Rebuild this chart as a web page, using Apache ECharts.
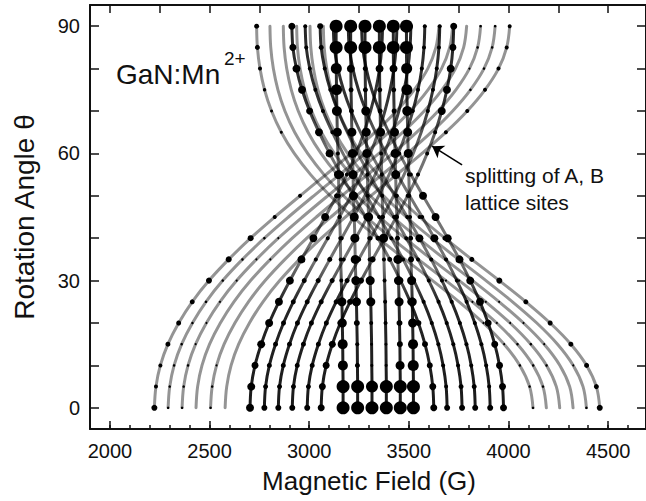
<!DOCTYPE html>
<html>
<head>
<meta charset="utf-8">
<script src="https://cdn.jsdelivr.net/npm/echarts@6/dist/echarts.min.js"></script>
<style>
  html, body { margin: 0; padding: 0; background: #ffffff; }
  #chart { width: 646px; height: 501px; }
</style>
</head>
<body>
<div id="chart"></div>
<script>
// Rotation angles (deg) at which every line position is tabulated
const angles = [0, 5, 10, 15, 20, 25, 30, 35, 40, 45, 50, 55, 60, 65, 70, 75, 80, 85, 90];

// Resonance fields (G) of the 30 Mn2+ lines: 5 fine-structure groups x 6 hyperfine lines
// Group A: lowest-field outer transitions
const fieldA1 = [2223, 2231, 2253, 2291, 2345, 2413, 2497, 2596, 2706, 2827, 2954, 3084, 3211, 3331, 3438, 3527, 3595, 3636, 3651];
const fieldA2 = [2292, 2300, 2322, 2360, 2414, 2482, 2566, 2665, 2775, 2896, 3023, 3153, 3280, 3400, 3507, 3596, 3664, 3705, 3720];
const fieldA3 = [2362, 2370, 2392, 2430, 2484, 2552, 2636, 2735, 2845, 2966, 3093, 3223, 3350, 3470, 3577, 3666, 3734, 3775, 3790];
const fieldA4 = [2432, 2440, 2462, 2500, 2554, 2622, 2706, 2805, 2915, 3036, 3163, 3293, 3420, 3540, 3647, 3736, 3804, 3845, 3860];
const fieldA5 = [2505, 2513, 2535, 2573, 2627, 2695, 2779, 2878, 2988, 3109, 3236, 3366, 3493, 3613, 3720, 3809, 3877, 3918, 3933];
const fieldA6 = [2578, 2586, 2608, 2646, 2700, 2768, 2852, 2951, 3061, 3182, 3309, 3439, 3566, 3686, 3793, 3882, 3950, 3991, 4006];
// Group B: inner low-field transitions
const fieldB1 = [2703, 2709, 2728, 2759, 2799, 2848, 2903, 2961, 3021, 3080, 3137, 3189, 3235, 3275, 3308, 3334, 3353, 3364, 3368];
const fieldB2 = [2775, 2781, 2800, 2831, 2871, 2920, 2975, 3033, 3093, 3152, 3209, 3261, 3307, 3347, 3380, 3406, 3425, 3436, 3440];
const fieldB3 = [2845, 2851, 2870, 2901, 2941, 2990, 3045, 3103, 3163, 3222, 3279, 3331, 3377, 3417, 3450, 3476, 3495, 3506, 3510];
const fieldB4 = [2915, 2921, 2940, 2971, 3011, 3060, 3115, 3173, 3233, 3292, 3349, 3401, 3447, 3487, 3520, 3546, 3565, 3576, 3580];
const fieldB5 = [2990, 2996, 3015, 3046, 3086, 3135, 3190, 3248, 3308, 3367, 3424, 3476, 3522, 3562, 3595, 3621, 3640, 3651, 3655];
const fieldB6 = [3060, 3066, 3085, 3116, 3156, 3205, 3260, 3318, 3378, 3437, 3494, 3546, 3592, 3632, 3665, 3691, 3710, 3721, 3725];
// Group C: central transition
const fieldC1 = [3170, 3170, 3169, 3168, 3166, 3164, 3161, 3158, 3156, 3153, 3149, 3147, 3144, 3141, 3139, 3137, 3136, 3135, 3135];
const fieldC2 = [3243, 3243, 3242, 3241, 3239, 3237, 3234, 3231, 3229, 3226, 3222, 3220, 3217, 3214, 3212, 3210, 3209, 3208, 3208];
const fieldC3 = [3315, 3315, 3314, 3313, 3311, 3309, 3306, 3303, 3301, 3298, 3294, 3292, 3289, 3286, 3284, 3282, 3281, 3280, 3280];
const fieldC4 = [3387, 3387, 3386, 3385, 3383, 3381, 3378, 3375, 3373, 3370, 3366, 3364, 3361, 3358, 3356, 3354, 3353, 3352, 3352];
const fieldC5 = [3457, 3457, 3456, 3455, 3453, 3451, 3448, 3445, 3443, 3440, 3436, 3434, 3431, 3428, 3426, 3424, 3423, 3422, 3422];
const fieldC6 = [3523, 3523, 3522, 3521, 3519, 3517, 3514, 3511, 3509, 3506, 3502, 3500, 3497, 3494, 3492, 3490, 3489, 3488, 3488];
// Group D: inner high-field transitions
const fieldD1 = [3625, 3620, 3605, 3581, 3548, 3507, 3458, 3404, 3345, 3284, 3221, 3160, 3102, 3049, 3002, 2964, 2936, 2918, 2913];
const fieldD2 = [3692, 3687, 3672, 3648, 3615, 3574, 3525, 3471, 3412, 3351, 3288, 3227, 3169, 3116, 3069, 3031, 3003, 2985, 2980];
const fieldD3 = [3767, 3762, 3747, 3723, 3690, 3649, 3600, 3546, 3487, 3426, 3363, 3302, 3244, 3191, 3144, 3106, 3078, 3060, 3055];
const fieldD4 = [3833, 3828, 3813, 3789, 3756, 3715, 3666, 3612, 3553, 3492, 3429, 3368, 3310, 3257, 3210, 3172, 3144, 3126, 3121];
const fieldD5 = [3908, 3903, 3888, 3864, 3831, 3790, 3741, 3687, 3628, 3567, 3504, 3443, 3385, 3332, 3285, 3247, 3219, 3201, 3196];
const fieldD6 = [3975, 3970, 3955, 3931, 3898, 3857, 3808, 3754, 3695, 3634, 3571, 3510, 3452, 3399, 3352, 3314, 3286, 3268, 3263];
// Group E: highest-field outer transitions
const fieldE1 = [4123, 4106, 4057, 3978, 3874, 3752, 3619, 3481, 3346, 3219, 3105, 3007, 2925, 2860, 2811, 2776, 2753, 2740, 2736];
const fieldE2 = [4190, 4173, 4124, 4045, 3941, 3819, 3686, 3548, 3413, 3286, 3172, 3074, 2992, 2927, 2878, 2843, 2820, 2807, 2803];
const fieldE3 = [4257, 4240, 4191, 4112, 4008, 3886, 3753, 3615, 3480, 3353, 3239, 3141, 3059, 2994, 2945, 2910, 2887, 2874, 2870];
const fieldE4 = [4324, 4307, 4258, 4179, 4075, 3953, 3820, 3682, 3547, 3420, 3306, 3208, 3126, 3061, 3012, 2977, 2954, 2941, 2937];
const fieldE5 = [4391, 4374, 4325, 4246, 4142, 4020, 3887, 3749, 3614, 3487, 3373, 3275, 3193, 3128, 3079, 3044, 3021, 3008, 3004];
const fieldE6 = [4458, 4441, 4392, 4313, 4209, 4087, 3954, 3816, 3681, 3554, 3440, 3342, 3260, 3195, 3146, 3111, 3088, 3075, 3071];

// Measured peak intensities, shown as marker diameter (0 = no peak resolved)
const peakA1 = [6, 4, 4, 5, 5, 5, 6, 6, 6, 4, 4, 0, 0, 0, 0, 0, 0, 0, 0];
const peakA2 = [2.5, 2.5, 2.5, 2.5, 2.5, 2.5, 2.5, 2.5, 2.5, 0, 0, 0, 0, 0, 0, 0, 0, 0, 0];
const peakA3 = [2.5, 2.5, 2.5, 2, 2, 2, 2, 2, 2, 0, 0, 0, 0, 0, 0, 0, 0, 0, 0];
const peakA4 = [0, 0, 0, 0, 0, 0, 0, 2, 0, 0, 0, 0, 0, 0, 0, 0, 2, 2.5, 2.5];
const peakA5 = [2.5, 2.5, 2, 0, 0, 0, 0, 0, 0, 0, 0, 0, 0, 0, 0, 2.5, 2.5, 2.5, 2.5];
const peakA6 = [0, 0, 0, 0, 0, 0, 0, 0, 0, 0, 0, 0, 0, 4, 4, 4, 4, 4, 4];
const peakB1 = [8, 8, 7, 8, 8, 8, 8, 8, 8, 8, 5, 4, 4, 0, 0, 0, 0, 0, 0];
const peakB2 = [6, 5, 5, 5, 5, 5, 5, 4, 4, 4, 0, 0, 0, 0, 0, 0, 0, 0, 0];
const peakB3 = [6, 5, 5, 5, 5, 5, 5, 5, 4, 4, 0, 0, 0, 0, 0, 0, 0, 0, 4];
const peakB4 = [6, 5, 5, 5, 5, 5, 5, 4, 4, 4, 0, 0, 0, 0, 4, 4, 4, 4, 4];
const peakB5 = [6, 5, 5, 5, 5, 5, 5, 5, 4, 4, 0, 0, 0, 0, 4, 4, 4, 4, 4];
const peakB6 = [7, 7, 7, 7, 6, 6, 6, 6, 6, 5, 4, 4, 4, 4, 8, 8, 8, 7, 7];
const peakC1 = [13, 13, 10, 10, 9, 9, 4, 4, 4, 4, 4, 9, 4, 9, 10, 11, 11, 13, 13];
const peakC2 = [13, 13, 5, 4, 6, 9, 9, 9, 9, 9, 9, 9, 9, 9, 5, 5, 8, 13, 13];
const peakC3 = [13, 12, 3, 3, 4, 9, 9, 4, 4, 9, 4, 4, 9, 9, 9, 5, 5, 13, 13];
const peakC4 = [13, 13, 3, 3, 4, 4, 4, 4, 9, 4, 4, 4, 4, 9, 5, 5, 8, 13, 13];
const peakC5 = [13, 13, 9, 6, 6, 9, 9, 9, 5, 4, 4, 9, 9, 9, 5, 5, 8, 13, 13];
const peakC6 = [13, 13, 11, 10, 9, 9, 9, 6, 5, 4, 4, 4, 9, 9, 10, 11, 11, 13, 13];
const peakD1 = [7, 7, 6, 6, 6, 6, 6, 5, 5, 5, 5, 6, 8, 8, 7, 8, 8, 7, 7];
const peakD2 = [6, 4, 4, 4, 4, 4, 4, 4, 4, 4, 0, 0, 0, 4, 4, 4, 4, 4, 4];
const peakD3 = [6, 5, 4, 4, 4, 4, 4, 4, 4, 4, 0, 0, 0, 0, 4, 4, 4, 5, 6];
const peakD4 = [6, 5, 4, 4, 4, 4, 4, 4, 8, 4, 0, 0, 0, 0, 0, 0, 0, 0, 0];
const peakD5 = [6, 4, 4, 4, 4, 4, 4, 4, 8, 4, 0, 0, 0, 0, 0, 0, 0, 0, 0];
const peakD6 = [7, 7, 7, 7, 7, 8, 8, 8, 8, 8, 8, 4, 4, 0, 0, 0, 0, 0, 0];
const peakE1 = [2.5, 2.5, 2.5, 2, 2, 0, 0, 0, 0, 0, 0, 0, 0, 3, 3, 3.5, 4, 5, 5];
const peakE2 = [0, 2.5, 2.5, 2.5, 2, 2, 2, 0, 0, 0, 0, 0, 0, 0, 0, 0, 0, 0, 0];
const peakE3 = [0, 0, 2.5, 2.5, 2, 2, 2, 2, 0, 0, 0, 0, 0, 0, 0, 0, 0, 0, 0];
const peakE4 = [0, 0, 0, 2, 2, 2, 2, 2, 0, 0, 0, 0, 0, 0, 0, 0, 0, 0, 0];
const peakE5 = [2.5, 0, 2, 0, 0, 0, 0, 0, 0, 0, 0, 0, 0, 0, 0, 0, 0, 0, 0];
const peakE6 = [6, 5, 5, 5, 5, 5, 6, 5, 5, 4, 4, 0, 0, 0, 0, 0, 0, 0, 0];

// Axis ticks and labels
const fieldLabels = [2000, 2500, 3000, 3500, 4000, 4500];
const fieldMinorTicks = [1900, 2000, 2100, 2200, 2300, 2400, 2500, 2600, 2700, 2800, 2900, 3000, 3100, 3200, 3300, 3400, 3500, 3600, 3700, 3800, 3900, 4000, 4100, 4200, 4300, 4400, 4500, 4600];
const fieldTopTicks = [2000, 2250, 2500, 2750, 3000, 3250, 3500, 3750, 4000, 4250, 4500];
const angleLabels = [0, 30, 60, 90];
const angleTicks = [0, 10, 20, 30, 40, 50, 60, 70, 80, 90];

const lines = [
  { name: 'A1', field: fieldA1, peak: peakA1, tone: 'outer' },
  { name: 'A2', field: fieldA2, peak: peakA2, tone: 'outer' },
  { name: 'A3', field: fieldA3, peak: peakA3, tone: 'outer' },
  { name: 'A4', field: fieldA4, peak: peakA4, tone: 'outer' },
  { name: 'A5', field: fieldA5, peak: peakA5, tone: 'outer' },
  { name: 'A6', field: fieldA6, peak: peakA6, tone: 'outer' },
  { name: 'E1', field: fieldE1, peak: peakE1, tone: 'outer' },
  { name: 'E2', field: fieldE2, peak: peakE2, tone: 'outer' },
  { name: 'E3', field: fieldE3, peak: peakE3, tone: 'outer' },
  { name: 'E4', field: fieldE4, peak: peakE4, tone: 'outer' },
  { name: 'E5', field: fieldE5, peak: peakE5, tone: 'outer' },
  { name: 'E6', field: fieldE6, peak: peakE6, tone: 'outer' },
  { name: 'B1', field: fieldB1, peak: peakB1, tone: 'inner' },
  { name: 'B2', field: fieldB2, peak: peakB2, tone: 'inner' },
  { name: 'B3', field: fieldB3, peak: peakB3, tone: 'inner' },
  { name: 'B4', field: fieldB4, peak: peakB4, tone: 'inner' },
  { name: 'B5', field: fieldB5, peak: peakB5, tone: 'inner' },
  { name: 'B6', field: fieldB6, peak: peakB6, tone: 'inner' },
  { name: 'D1', field: fieldD1, peak: peakD1, tone: 'inner' },
  { name: 'D2', field: fieldD2, peak: peakD2, tone: 'inner' },
  { name: 'D3', field: fieldD3, peak: peakD3, tone: 'inner' },
  { name: 'D4', field: fieldD4, peak: peakD4, tone: 'inner' },
  { name: 'D5', field: fieldD5, peak: peakD5, tone: 'inner' },
  { name: 'D6', field: fieldD6, peak: peakD6, tone: 'inner' },
  { name: 'C1', field: fieldC1, peak: peakC1, tone: 'inner' },
  { name: 'C2', field: fieldC2, peak: peakC2, tone: 'inner' },
  { name: 'C3', field: fieldC3, peak: peakC3, tone: 'inner' },
  { name: 'C4', field: fieldC4, peak: peakC4, tone: 'inner' },
  { name: 'C5', field: fieldC5, peak: peakC5, tone: 'inner' },
  { name: 'C6', field: fieldC6, peak: peakC6, tone: 'inner' }
];

const FONT = 'Liberation Sans, Arial, Helvetica, sans-serif';
const INK = '#111111';

// Inner lines are dark where they are well resolved (low and high angles)
// and fade to grey across the crowded crossing region.
function innerStroke() {
  return new echarts.graphic.LinearGradient(0, 0, 0, 1, [
    { offset: 0.00, color: 'rgba(0,0,0,0.85)' },
    { offset: 0.20, color: 'rgba(0,0,0,0.80)' },
    { offset: 0.34, color: 'rgba(0,0,0,0.55)' },
    { offset: 0.62, color: 'rgba(0,0,0,0.55)' },
    { offset: 0.72, color: 'rgba(0,0,0,0.85)' },
    { offset: 1.00, color: 'rgba(0,0,0,0.90)' }
  ]);
}

const lineSeries = lines.map(l => ({
  name: l.name,
  type: 'line',
  xAxisIndex: 0,
  yAxisIndex: 0,
  data: angles.map((a, i) => [l.field[i], a]),
  smooth: 0.35,
  showSymbol: false,
  silent: true,
  z: l.tone === 'outer' ? 2 : 3,
  lineStyle: {
    width: 3,
    cap: 'round',
    color: l.tone === 'outer' ? 'rgba(0,0,0,0.42)' : innerStroke()
  }
}));

const peakPoints = [];
lines.forEach(l => {
  angles.forEach((a, i) => {
    if (l.peak[i] > 0) peakPoints.push([l.field[i], a, l.peak[i]]);
  });
});

const peakSeries = {
  name: 'peaks',
  type: 'scatter',
  xAxisIndex: 0,
  yAxisIndex: 0,
  data: peakPoints,
  symbol: 'circle',
  symbolSize: v => v[2],
  itemStyle: { color: '#000000', opacity: 1 },
  silent: true,
  z: 5,
  markLine: {
    silent: true,
    symbol: ['none', 'arrow'],
    symbolSize: 11,
    label: { show: false },
    lineStyle: { color: '#000000', width: 1.6, type: 'solid' },
    data: [[{ coord: [3767, 57.3] }, { coord: [3617, 61.7] }]]
  }
};

const plainTicks = v => String(v);

const chart = echarts.init(document.getElementById('chart'), null, { renderer: 'svg', width: 646, height: 501 });

chart.setOption({
  animation: false,
  backgroundColor: '#ffffff',
  grid: { left: 90, top: 5, width: 558, height: 424, containLabel: false },
  xAxis: [
    {
      type: 'value', min: 1900, max: 4690, position: 'bottom',
      axisLine: { show: true, onZero: false, lineStyle: { color: INK, width: 2 } },
      axisTick: { show: true, inside: true, length: 8, customValues: fieldLabels, lineStyle: { color: INK, width: 1.5 } },
      axisLabel: { show: true, customValues: fieldLabels, formatter: plainTicks, margin: 12, fontSize: 20, color: INK, fontFamily: FONT },
      splitLine: { show: false }
    },
    {
      type: 'value', min: 1900, max: 4690, position: 'bottom',
      axisLine: { show: false, onZero: false },
      axisTick: { show: true, inside: true, length: 4, customValues: fieldMinorTicks, lineStyle: { color: INK, width: 1.5 } },
      axisLabel: { show: false },
      splitLine: { show: false }
    },
    {
      type: 'value', min: 1900, max: 4690, position: 'top',
      axisLine: { show: true, onZero: false, lineStyle: { color: INK, width: 2 } },
      axisTick: { show: true, inside: true, length: 8, customValues: fieldTopTicks, lineStyle: { color: INK, width: 1.5 } },
      axisLabel: { show: false },
      splitLine: { show: false }
    }
  ],
  yAxis: [
    {
      type: 'value', min: -5, max: 95, position: 'left',
      axisLine: { show: true, onZero: false, lineStyle: { color: INK, width: 2 } },
      axisTick: { show: true, inside: true, length: 9, customValues: angleTicks, lineStyle: { color: INK, width: 1.5 } },
      axisLabel: { show: true, customValues: angleLabels, formatter: plainTicks, margin: 10, fontSize: 20, color: INK, fontFamily: FONT },
      splitLine: { show: false }
    },
    {
      type: 'value', min: -5, max: 95, position: 'right',
      axisLine: { show: true, onZero: false, lineStyle: { color: INK, width: 2 } },
      axisTick: { show: true, inside: true, length: 9, customValues: angleTicks, lineStyle: { color: INK, width: 1.5 } },
      axisLabel: { show: false },
      splitLine: { show: false }
    }
  ],
  graphic: [
    { type: 'text', x: 369, y: 481, style: { text: 'Magnetic Field (G)', font: '26px ' + FONT, fill: INK, textAlign: 'center', textVerticalAlign: 'middle' } },
    { type: 'text', rotation: Math.PI / 2, x: 24, y: 217, style: { text: 'Rotation Angle θ', font: '28px ' + FONT, fill: INK, textAlign: 'center', textVerticalAlign: 'middle' } },
    { type: 'text', x: 116, y: 74, style: { text: 'GaN:Mn', font: '28px ' + FONT, fill: INK, textAlign: 'left', textVerticalAlign: 'middle' } },
    { type: 'text', x: 224, y: 58, style: { text: '2+', font: '19px ' + FONT, fill: INK, textAlign: 'left', textVerticalAlign: 'middle' } },
    { type: 'text', x: 465, y: 175, style: { text: 'splitting of A, B', font: '21px ' + FONT, fill: INK, textAlign: 'left', textVerticalAlign: 'middle' } },
    { type: 'text', x: 465, y: 202, style: { text: 'lattice sites', font: '21px ' + FONT, fill: INK, textAlign: 'left', textVerticalAlign: 'middle' } }
  ],
  series: lineSeries.concat([peakSeries])
});
</script>
</body>
</html>
